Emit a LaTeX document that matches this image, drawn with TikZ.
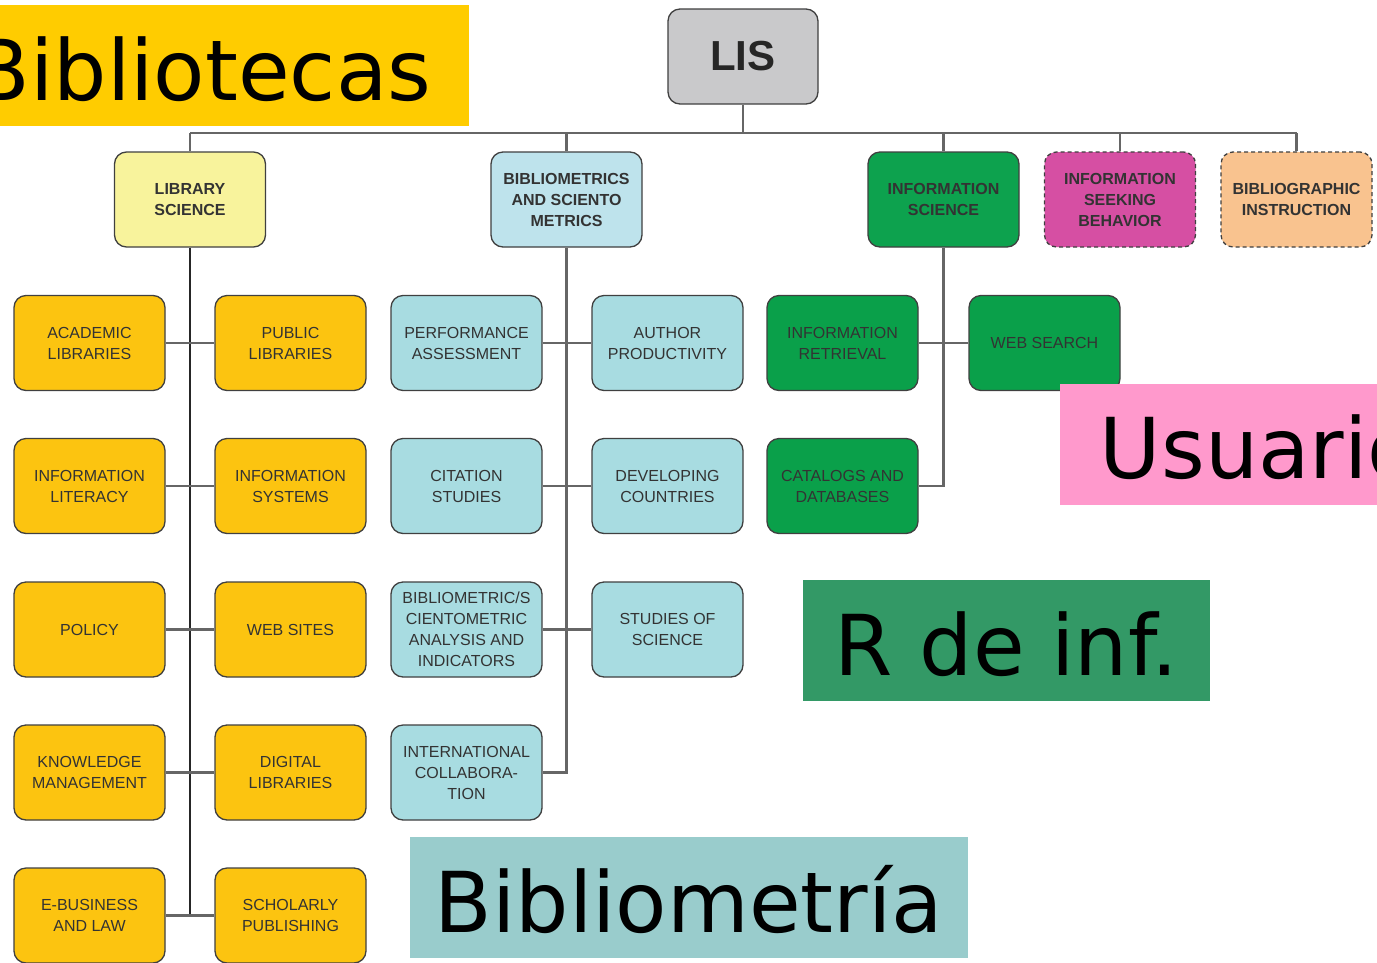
\documentclass[tikz,border=0pt]{standalone}
\usepackage{fontspec}
\setmainfont{Liberation Sans}
\newfontfamily\tagfont{DejaVu Sans}

\definecolor{lisgray}{HTML}{C9C9CB}
\definecolor{lsyellow}{HTML}{F8F39C}
\definecolor{bsblue}{HTML}{BEE3EC}
\definecolor{isgreen}{HTML}{0DA24E}
\definecolor{seekpink}{HTML}{D64FA3}
\definecolor{instrpeach}{HTML}{F9C38F}
\definecolor{libgold}{HTML}{FCC410}
\definecolor{bibblue}{HTML}{A8DCE1}
\definecolor{infgreen}{HTML}{0AA04A}
\definecolor{tagyellow}{HTML}{FFCC00}
\definecolor{tagpink}{HTML}{FF99CC}
\definecolor{taggreen}{HTML}{339966}
\definecolor{tagteal}{HTML}{99CCCC}

\tikzset{%
    box/.style={
      rectangle,
      rounded corners=12pt,
      draw=black!75,
      line width=1.3pt,
      minimum width=151pt,
      minimum height=95pt,
      align=center,
      text=black!80,
      font=\fontsize{16}{21}\selectfont
    },
    head/.style={
      box,
      font=\bfseries\fontsize{16}{21}\selectfont
    },
    dashbox/.style={
      head,
      dash pattern=on 4pt off 3pt
    },
    link/.style={
      draw=black!60,
      line width=2.2pt
    },
    tag/.style={
      rectangle,
      inner sep=0pt,
      minimum height=121pt,
      text height=95pt,
      text depth=26pt,
      text=black,
      font=\tagfont\fontsize{84}{84}\selectfont
    }
  }

\begin{document}
\begin{tikzpicture}[x=1pt, y=-1pt]
      \useasboundingbox (0,0) rectangle (1377,962);
      \fill [white] (0,0) rectangle (1377,962);
      \clip (0,0) rectangle (1377,962);

      \node [box, fill=lisgray, minimum width=150pt, text=black!85,
             font=\bfseries\fontsize{42}{42}\selectfont] (lis) at (743,56.5) {LIS};

      \node [head, fill=lsyellow] (ls) at (190,199.5) {LIBRARY\\SCIENCE};
      \node [head, fill=bsblue] (bs) at (566.5,199.5) {BIBLIOMETRICS\\AND SCIENTO\\METRICS};
      \node [head, fill=isgreen] (is) at (943.5,199.5) {INFORMATION\\SCIENCE};
      \node [dashbox, fill=seekpink] (seek) at (1120,199.5) {INFORMATION\\SEEKING\\BEHAVIOR};
      \node [dashbox, fill=instrpeach] (instr) at (1296.5,199.5) {BIBLIOGRAPHIC\\INSTRUCTION};

      \node [box, fill=libgold] (acad) at (89.5,343) {ACADEMIC\\LIBRARIES};
      \node [box, fill=libgold] (pub) at (290.5,343) {PUBLIC\\LIBRARIES};
      \node [box, fill=libgold] (litr) at (89.5,486) {INFORMATION\\LITERACY};
      \node [box, fill=libgold] (isys) at (290.5,486) {INFORMATION\\SYSTEMS};
      \node [box, fill=libgold] (pol) at (89.5,629.5) {POLICY};
      \node [box, fill=libgold] (web) at (290.5,629.5) {WEB SITES};
      \node [box, fill=libgold] (km) at (89.5,772.5) {KNOWLEDGE\\MANAGEMENT};
      \node [box, fill=libgold] (dl) at (290.5,772.5) {DIGITAL\\LIBRARIES};
      \node [box, fill=libgold] (ebl) at (89.5,915.5) {E-BUSINESS\\AND LAW};
      \node [box, fill=libgold] (sp) at (290.5,915.5) {SCHOLARLY\\PUBLISHING};

      \node [box, fill=bibblue] (perf) at (466.5,343) {PERFORMANCE\\ASSESSMENT};
      \node [box, fill=bibblue] (auth) at (667.5,343) {AUTHOR\\PRODUCTIVITY};
      \node [box, fill=bibblue] (cit) at (466.5,486) {CITATION\\STUDIES};
      \node [box, fill=bibblue] (dev) at (667.5,486) {DEVELOPING\\COUNTRIES};
      \node [box, fill=bibblue] (bca) at (466.5,629.5) {BIBLIOMETRIC/S\\CIENTOMETRIC\\ANALYSIS AND\\INDICATORS};
      \node [box, fill=bibblue] (sos) at (667.5,629.5) {STUDIES OF\\SCIENCE};
      \node [box, fill=bibblue] (intl) at (466.5,772.5) {INTERNATIONAL\\COLLABORA-\\TION};

      \node [box, fill=infgreen] (ir) at (842.5,343) {INFORMATION\\RETRIEVAL};
      \node [box, fill=infgreen] (ws) at (1044.5,343) {WEB SEARCH};
      \node [box, fill=infgreen] (cat) at (842.5,486) {CATALOGS AND\\DATABASES};

      \coordinate (bus) at (743,133);
      \draw [link] (lis) -- (bus);
      \draw [link] (ls.north |- bus) -- (instr.north |- bus);
      \draw [link] (ls) -- (ls.north |- bus);
      \draw [link] (bs) -- (bs.north |- bus);
      \draw [link] (is) -- (is.north |- bus);
      \draw [link] (seek) -- (seek.north |- bus);
      \draw [link] (instr) -- (instr.north |- bus);

      \draw [link, draw=black!85] (ls) -- (ls.south |- sp.west);
      \draw [link] (acad) -- (pub);
      \draw [link] (litr) -- (isys);
      \draw [link] (pol) -- (web);
      \draw [link] (km) -- (dl);
      \draw [link] (ebl) -- (sp);

      \draw [link] (bs) -- (bs.south |- intl.east) -- (intl);
      \draw [link] (perf) -- (auth);
      \draw [link] (cit) -- (dev);
      \draw [link] (bca) -- (sos);

      \draw [link] (is) -- (is.south |- cat.east) -- (cat);
      \draw [link] (ir) -- (ws);

      \node [tag, fill=tagyellow, minimum width=534pt] (bibl) at (202,65.5) {Bibliotecas};
      \node [tag, fill=tagpink, minimum width=399pt] (usu) at (1259.5,444) {Usuario};
      \node [tag, fill=taggreen, minimum width=407pt] (rinf) at (1006.5,640.5) {R de inf.};
      \node [tag, fill=tagteal, minimum width=558pt] (bibm) at (689,897.5) {Bibliometría};
    \end{tikzpicture}
\end{document}
